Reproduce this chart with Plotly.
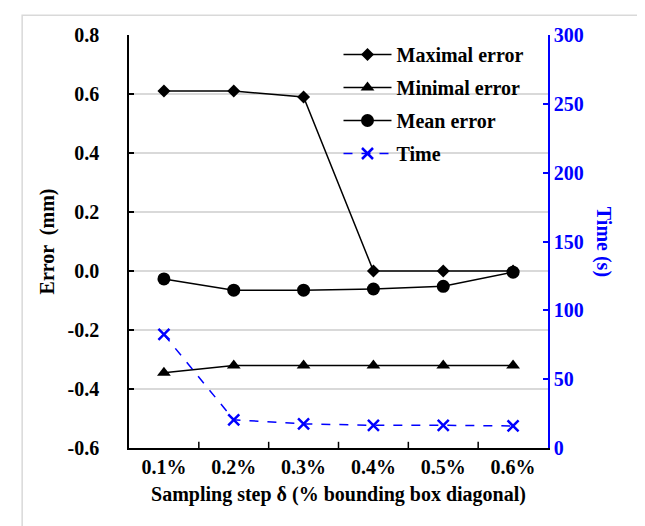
import plotly.graph_objects as go

categories = ["0.1%", "0.2%", "0.3%", "0.4%", "0.5%", "0.6%"]
max_error = [0.61, 0.61, 0.59, 0.0, 0.0, 0.0]
min_error = [-0.345, -0.32, -0.32, -0.32, -0.32, -0.32]
mean_error = [-0.027, -0.065, -0.065, -0.061, -0.052, -0.004]
time_s = [82.5, 20.5, 17.5, 16.5, 16.5, 16.0]
left_ticks = [0.8, 0.6, 0.4, 0.2, 0.0, -0.2, -0.4, -0.6]
left_tick_text = ["0.8", "0.6", "0.4", "0.2", "0.0", "-0.2", "-0.4", "-0.6"]
right_ticks = [0, 50, 100, 150, 200, 250, 300]

FONT = "Liberation Serif"
FS = 20

fig = go.Figure()
fig.add_trace(go.Scatter(x=categories, y=max_error, name="Maximal error", mode="lines+markers",
                         legendgroup="a",
                         line=dict(color="black", width=1.5),
                         marker=dict(symbol="diamond", size=10, color="black")))
fig.add_trace(go.Scatter(x=categories, y=min_error, name="Minimal error", mode="lines+markers",
                         legendgroup="b",
                         line=dict(color="black", width=1.5),
                         marker=dict(symbol="triangle-up", size=12, color="black")))
fig.add_trace(go.Scatter(x=categories, y=mean_error, name="Mean error", mode="lines+markers",
                         legendgroup="c",
                         line=dict(color="black", width=1.5),
                         marker=dict(symbol="circle", size=13, color="black")))
fig.add_trace(go.Scatter(x=categories, y=time_s, name="Time", mode="lines+markers", yaxis="y2",
                         legendgroup="d",
                         line=dict(color="#0000FF", width=1.5, dash="dash"),
                         marker=dict(symbol="x-thin", size=11, color="#0000FF",
                                     line=dict(color="#0000FF", width=2.5))))

fig.update_layout(
    width=645, height=526,
    paper_bgcolor="white", plot_bgcolor="white",
    margin=dict(l=121, r=105, t=27, b=86),
    font=dict(family=FONT, size=FS, color="black"),
    showlegend=True,
    legend=dict(x=0.50, y=1.0, xanchor="left", yanchor="top",
                bgcolor="rgba(0,0,0,0)", font=dict(family=FONT, size=FS, color="black", weight="bold"),
                tracegroupgap=4, itemwidth=48),
    xaxis=dict(type="category", range=[-0.5, 5.5], showgrid=False,
               showline=True, linecolor="black", linewidth=1.5, mirror=False,
               ticks="", tickfont=dict(family=FONT, size=FS, weight="bold"),
               title=dict(text="Sampling step δ (% bounding box diagonal)",
                          font=dict(family=FONT, size=FS, weight="bold", color="black"), standoff=10),
               zeroline=False),
    yaxis=dict(range=[-0.6, 0.8], tickvals=left_ticks, ticktext=left_tick_text,
               showgrid=True, gridcolor="#d9d9d9", gridwidth=1.5,
               showline=True, linecolor="black", linewidth=1.5,
               ticks="inside", ticklen=5, tickcolor="black", tickwidth=1.5,
               ticklabelstandoff=24,
               tickfont=dict(family=FONT, size=FS, weight="bold"),
               title=dict(text="Error  (mm)", font=dict(family=FONT, size=FS, weight="bold", color="black"),
                          standoff=8),
               zeroline=False),
    yaxis2=dict(range=[0, 300], tickvals=right_ticks, overlaying="y", side="right",
                showgrid=False, showline=True, linecolor="#0000FF", linewidth=1.5,
                ticks="inside", ticklen=5, tickcolor="#0000FF", tickwidth=1.5,
                tickfont=dict(family=FONT, size=FS, weight="bold", color="#0000FF"),
                zeroline=False),
    annotations=[dict(text="Time (s)", xref="paper", yref="paper", x=1.165, y=0.5,
                      textangle=90, showarrow=False,
                      font=dict(family=FONT, size=FS, color="#0000FF", weight="bold"))],
    shapes=[dict(type="rect", xref="paper", yref="paper", x0=-0.255, x1=1.241, y0=-0.203, y1=1.048,
                 line=dict(color="#d9d9d9", width=1.5), layer="below")],
)

# x-axis tick marks between categories (inside, pointing up)
for i in range(1, 6):
    fig.add_shape(type="line", xref="x", yref="paper", x0=i - 0.5, x1=i - 0.5, y0=0, y1=0.015,
                  line=dict(color="black", width=1.5))

fig.write_html("out.html")
